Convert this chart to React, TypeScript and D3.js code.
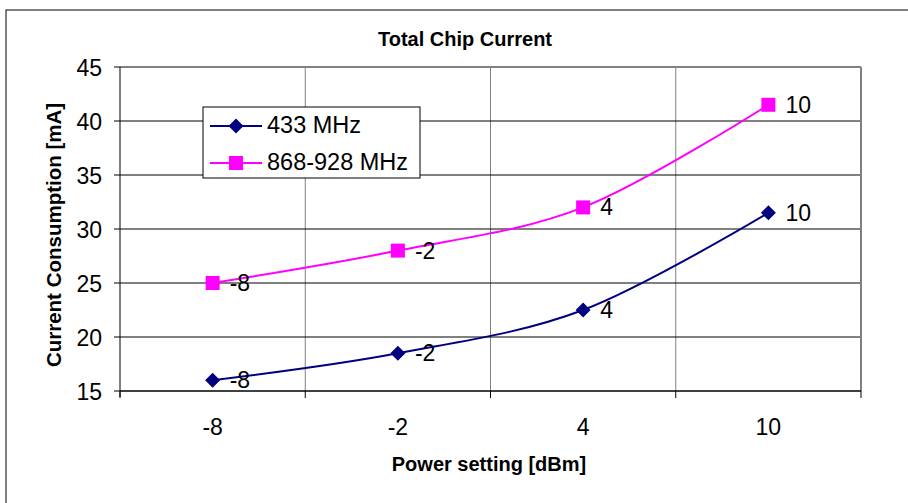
import { useEffect, useRef } from "react"
import * as d3 from "d3"

const categories = ["-8", "-2", "4", "10"]
const series433 = [16, 18.5, 22.5, 31.5]
const series868 = [25, 28, 32, 41.5]
const yTicks = [15, 20, 25, 30, 35, 40, 45]

const seriesList = [
  { name: "433 MHz", values: series433, color: "#000080", marker: "diamond" },
  { name: "868-928 MHz", values: series868, color: "#FF00FF", marker: "square" },
]

export default function App() {
  const svgRef = useRef<SVGSVGElement>(null)

  useEffect(() => {
    if (!svgRef.current) return
    const svg = d3.select(svgRef.current)
    svg.selectAll("*").remove()

    const font = "'Liberation Sans', Arial, sans-serif"
    const left = 120
    const right = 861
    const top = 67
    const bottom = 391

    // outer chart frame
    svg.append("rect")
      .attr("x", 6).attr("y", 10).attr("width", 930).attr("height", 520)
      .attr("fill", "#fff").attr("stroke", "#000").attr("stroke-width", 1)

    const xScale = d3.scaleBand().domain(categories).range([left, right])
    const yScale = d3.scaleLinear().domain([15, 45]).range([bottom, top])

    // vertical grid at category boundaries
    const bounds = categories.map((c) => xScale(c) as number).concat([right])
    bounds.slice(1, -1).forEach((x) => {
      svg.append("line")
        .attr("x1", x).attr("x2", x).attr("y1", top).attr("y2", bottom)
        .attr("stroke", "#808080").attr("stroke-width", 1)
    })

    // horizontal grid
    yTicks.slice(1, -1).forEach((t) => {
      svg.append("line")
        .attr("x1", left).attr("x2", right).attr("y1", yScale(t)).attr("y2", yScale(t))
        .attr("stroke", "#000").attr("stroke-width", 1)
    })

    // plot area border (top + right gray)
    svg.append("line")
      .attr("x1", left).attr("x2", right).attr("y1", top).attr("y2", top)
      .attr("stroke", "#808080").attr("stroke-width", 2)
    svg.append("line")
      .attr("x1", right).attr("x2", right).attr("y1", top).attr("y2", bottom)
      .attr("stroke", "#808080").attr("stroke-width", 2)

    // y axis
    svg.append("line")
      .attr("x1", left).attr("x2", left).attr("y1", top).attr("y2", bottom + 6)
      .attr("stroke", "#000").attr("stroke-width", 1)
    yTicks.forEach((t) => {
      svg.append("line")
        .attr("x1", left - 6).attr("x2", left).attr("y1", yScale(t)).attr("y2", yScale(t))
        .attr("stroke", "#000")
      svg.append("text")
        .attr("x", left - 18).attr("y", yScale(t) + 8.5)
        .attr("text-anchor", "end").attr("font-family", font).attr("font-size", 23)
        .text(t)
    })

    // x axis
    svg.append("line")
      .attr("x1", left).attr("x2", right).attr("y1", bottom).attr("y2", bottom)
      .attr("stroke", "#000").attr("stroke-width", 1.5)
    bounds.forEach((x) => {
      svg.append("line")
        .attr("x1", x).attr("x2", x).attr("y1", bottom).attr("y2", bottom + 7)
        .attr("stroke", "#000")
    })
    categories.forEach((c) => {
      svg.append("text")
        .attr("x", (xScale(c) as number) + xScale.bandwidth() / 2).attr("y", 435)
        .attr("text-anchor", "middle").attr("font-family", font).attr("font-size", 23)
        .text(c)
    })

    // titles
    svg.append("text")
      .attr("x", 465).attr("y", 46)
      .attr("text-anchor", "middle").attr("font-family", font).attr("font-size", 20)
      .attr("font-weight", "bold").text("Total Chip Current")
    svg.append("text")
      .attr("x", 489).attr("y", 471)
      .attr("text-anchor", "middle").attr("font-family", font).attr("font-size", 20)
      .attr("font-weight", "bold").text("Power setting [dBm]")
    svg.append("text")
      .attr("transform", `translate(61, 235) rotate(-90)`)
      .attr("text-anchor", "middle").attr("font-family", font).attr("font-size", 20.5)
      .attr("font-weight", "bold").text("Current Consumption [mA]")

    const cx = (i: number) => (xScale(categories[i]) as number) + xScale.bandwidth() / 2
    const line = d3.line<number>()
      .x((_, i) => cx(i))
      .y((d) => yScale(d))
      .curve(d3.curveCardinal.tension(0))

    const drawMarker = (g: any, kind: string, x: number, y: number, color: string) => {
      if (kind === "diamond") {
        g.append("path")
          .attr("d", `M${x},${y - 7.5}L${x + 7.5},${y}L${x},${y + 7.5}L${x - 7.5},${y}Z`)
          .attr("fill", color)
      } else {
        g.append("rect")
          .attr("x", x - 7).attr("y", y - 7).attr("width", 14).attr("height", 14)
          .attr("fill", color)
      }
    }

    seriesList.forEach((s) => {
      svg.append("path")
        .attr("d", line(s.values))
        .attr("fill", "none").attr("stroke", s.color).attr("stroke-width", 2)
      s.values.forEach((v, i) => {
        drawMarker(svg, s.marker, cx(i), yScale(v), s.color)
        svg.append("text")
          .attr("x", cx(i) + 17).attr("y", yScale(v) + 8)
          .attr("font-family", font).attr("font-size", 23)
          .text(categories[i])
      })
    })

    // legend
    const lg = svg.append("g")
    lg.append("rect")
      .attr("x", 203).attr("y", 107).attr("width", 217).attr("height", 71)
      .attr("fill", "#fff").attr("stroke", "#000").attr("stroke-width", 1)
    seriesList.forEach((s, i) => {
      const y = 126 + i * 37
      lg.append("line")
        .attr("x1", 210).attr("x2", 262).attr("y1", y).attr("y2", y)
        .attr("stroke", s.color).attr("stroke-width", 2)
      drawMarker(lg, s.marker, 236, y, s.color)
      lg.append("text")
        .attr("x", 267).attr("y", y + 7)
        .attr("font-family", font).attr("font-size", 23.5)
        .text(s.name)
    })
  }, [])

  return (
    <svg
      ref={svgRef}
      width={908}
      height={503}
      style={{ position: "absolute", left: 0, top: 0, background: "#fff" }}
    />
  )
}
